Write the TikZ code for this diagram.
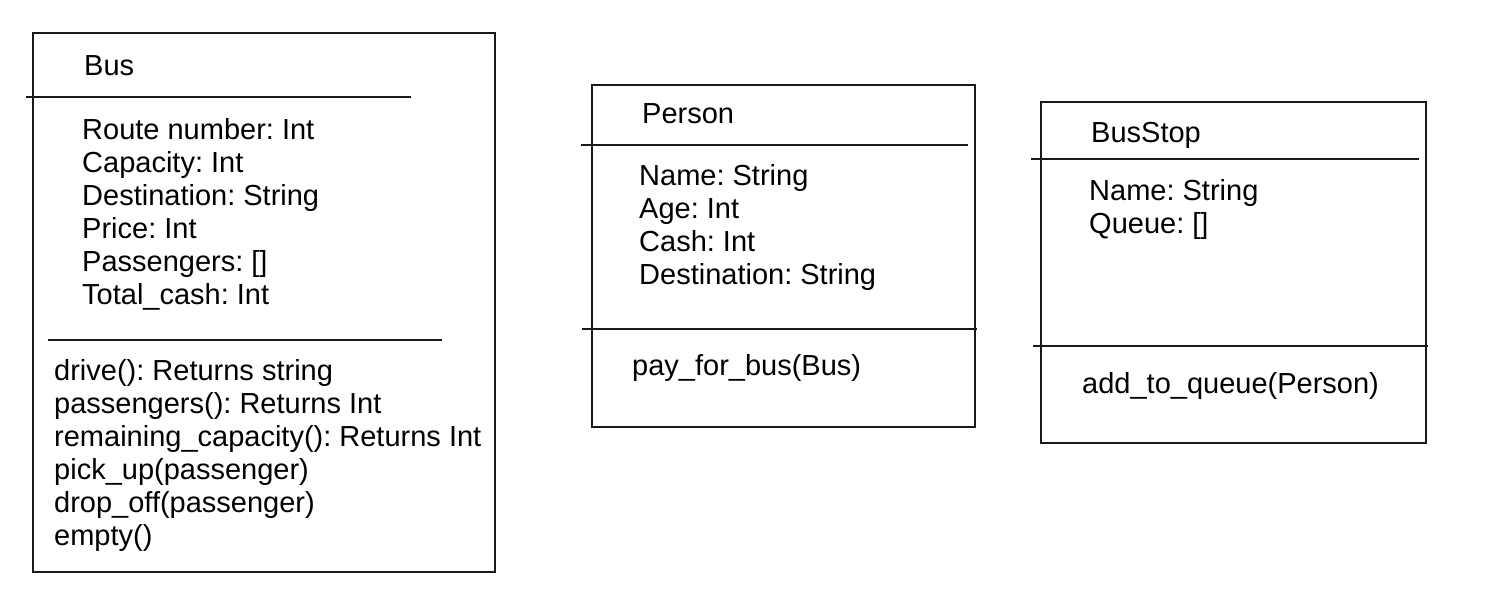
\documentclass[tikz,border=0pt]{standalone}
\usepackage{fontspec}
\setmainfont{Liberation Sans}
\frenchspacing

\tikzset{
  txt/.style={anchor=base west, inner sep=0pt, font=\fontsize{29}{33}\selectfont},
  edge/.style={draw=black!90, line width=1.3pt}
}

\begin{document}
\begin{tikzpicture}[x=1pt, y=-1pt]
\useasboundingbox (0,0) rectangle (1486,602);

\def\dy{33}

% Bus
\def\bl{33};
\def\br{495};
\def\bt{33};
\def\bb{572};

\draw[edge] (\bl, \bt) rectangle (\br, \bb);
\draw[edge] (26, 97) -- (411, 97);
\draw[edge] (48, 340) -- (442, 340);

\node[txt] (bus) at (84, 76) {Bus};

\node[txt] (busa) at (82, 139) {Route number: Int};
\node[txt] (busb) at (82, 139+\dy) {Capacity: Int};
\node[txt] (busc) at (82, 139+2*\dy) {Destination: String};
\node[txt] (busd) at (82, 139+3*\dy) {Price: Int};
\node[txt] (buse) at (82, 139+4*\dy) {Passengers: []};
\node[txt] (busf) at (82, 139+5*\dy) {Total\_cash: Int};

\node[txt] (busm) at (54, 380) {drive(): Returns string};
\node[txt] (busn) at (54, 380+\dy) {passengers(): Returns Int};
\node[txt] (buso) at (54, 380+2*\dy) {remaining\_capacity(): Returns Int};
\node[txt] (busp) at (54, 380+3*\dy) {pick\_up(passenger)};
\node[txt] (busq) at (54, 380+4*\dy) {drop\_off(passenger)};
\node[txt] (busr) at (54, 380+5*\dy) {empty()};

% Person
\def\pl{592};
\def\pr{975};
\def\pt{85};
\def\pb{427};

\draw[edge] (\pl, \pt) rectangle (\pr, \pb);
\draw[edge] (581, 145) -- (968, 145);
\draw[edge] (582, 329) -- (977, 329);

\node[txt] (person) at (642, 123) {Person};

\node[txt] (pera) at (639, 185) {Name: String};
\node[txt] (perb) at (639, 185+\dy) {Age: Int};
\node[txt] (perc) at (639, 185+2*\dy) {Cash: Int};
\node[txt] (perd) at (639, 185+3*\dy) {Destination: String};

\node[txt] (perm) at (632, 375) {pay\_for\_bus(Bus)};

% BusStop
\def\sl{1041};
\def\sr{1426};
\def\st{102};
\def\sb{443};

\draw[edge] (\sl, \st) rectangle (\sr, \sb);
\draw[edge] (1031, 159) -- (1419, 159);
\draw[edge] (1033, 346) -- (1428, 346);

\node[txt] (stop) at (1091, 142) {BusStop};

\node[txt] (stopa) at (1089, 200) {Name: String};
\node[txt] (stopb) at (1089, 200+\dy) {Queue: []};

\node[txt] (stopm) at (1082, 393) {add\_to\_queue(Person)};

\end{tikzpicture}
\end{document}
